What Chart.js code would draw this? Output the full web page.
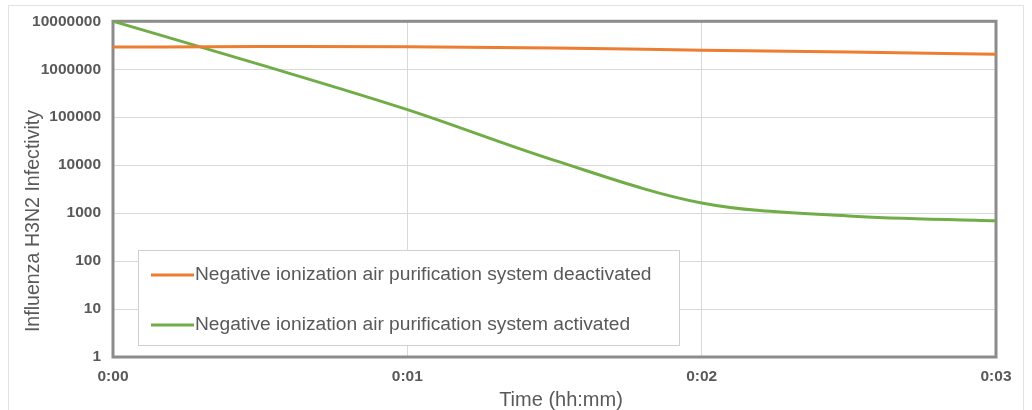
<!DOCTYPE html>
<html>
<head>
<meta charset="utf-8">
<script src="https://cdn.jsdelivr.net/npm/chart.js@4.4.1/dist/chart.umd.min.js"></script>
<style>
  html, body { margin: 0; padding: 0; background: #ffffff; }
  #wrap { position: relative; width: 1032px; height: 410px; overflow: hidden; }
  #frame { position: absolute; left: 8px; top: 5px; width: 1016px; height: 430px; border: 1px solid #e3e3e3; box-sizing: border-box; }
  canvas { position: absolute; left: 0; top: 0; }
</style>
</head>
<body>
<div id="wrap">
  <div id="frame"></div>
  <canvas id="c" width="1032" height="410"></canvas>
</div>
<script>
// Time in minutes (0:00 .. 0:03)
const times = [0, 0.5, 1, 1.5, 2, 2.5, 3];
const xTickValues = [0, 1, 2, 3];
const xTickLabels = ['0:00', '0:01', '0:02', '0:03'];
const yTickValues = [1, 10, 100, 1000, 10000, 100000, 1000000, 10000000];

const xTitle = 'Time (hh:mm)';
const yTitle = 'Influenza H3N2 Infectivity';
const labelDeactivated = 'Negative ionization air purification system deactivated';
const labelActivated = 'Negative ionization air purification system activated';
const deactivated = [2900000, 2970000, 2940000, 2760000, 2500000, 2280000, 2050000];
const activated = [10000000, 1250000, 144000, 12600, 1630, 875, 690];

const ORANGE = '#ED7D31';
const GREEN = '#70AD47';
const TEXT = '#595959';
const FONT = "'Liberation Sans', Arial, sans-serif";

const framePlugin = {
  id: 'frame',
  beforeDatasetsDraw(chart) {
    const a = chart.chartArea, ctx = chart.ctx;
    ctx.save();
    ctx.strokeStyle = '#8c8c8c';
    ctx.lineWidth = 3;
    ctx.strokeRect(a.left, a.top, a.right - a.left, a.bottom - a.top);
    ctx.restore();
  }
};

const titlesPlugin = {
  id: 'axisTitles',
  afterDraw(chart) {
    const ctx = chart.ctx;
    ctx.save();
    ctx.fillStyle = TEXT;
    ctx.textAlign = 'center';
    ctx.textBaseline = 'middle';
    ctx.font = '20px ' + FONT;
    ctx.fillText(xTitle, 561, 400);
    ctx.translate(34, 221);
    ctx.rotate(-Math.PI / 2);
    ctx.font = '19.6px ' + FONT;
    ctx.fillText(yTitle, 0, 0);
    ctx.restore();
  }
};

const legendBoxPlugin = {
  id: 'legendBox',
  afterDatasetsDraw(chart) {
    const ctx = chart.ctx;
    const x0 = 138.5, y0 = 250.5, w = 541, h = 95;
    ctx.save();
    ctx.fillStyle = '#ffffff';
    ctx.fillRect(x0, y0, w, h);
    ctx.strokeStyle = '#d0d0d0';
    ctx.lineWidth = 1;
    ctx.strokeRect(x0, y0, w, h);
    const rows = [275, 325];
    chart.data.datasets.forEach((ds, i) => {
      const y = rows[i];
      ctx.strokeStyle = ds.borderColor;
      ctx.lineWidth = 3;
      ctx.beginPath();
      ctx.moveTo(151, y);
      ctx.lineTo(194, y);
      ctx.stroke();
      ctx.fillStyle = TEXT;
      ctx.font = '19.2px ' + FONT;
      ctx.textBaseline = 'middle';
      ctx.textAlign = 'left';
      ctx.fillText(ds.label, 195, y);
    });
    ctx.restore();
  }
};

new Chart(document.getElementById('c'), {
  type: 'line',
  data: {
    datasets: [
      {
        label: labelDeactivated,
        data: times.map((t, i) => ({ x: t, y: deactivated[i] })),
        borderColor: ORANGE,
        backgroundColor: ORANGE,
        borderWidth: 3,
        pointRadius: 0,
        cubicInterpolationMode: 'monotone',
        fill: false
      },
      {
        label: labelActivated,
        data: times.map((t, i) => ({ x: t, y: activated[i] })),
        borderColor: GREEN,
        backgroundColor: GREEN,
        borderWidth: 3,
        pointRadius: 0,
        cubicInterpolationMode: 'monotone',
        fill: false
      }
    ]
  },
  options: {
    responsive: false,
    animation: false,
    devicePixelRatio: 1,
    layout: { padding: { left: 0, top: 20, right: 36, bottom: 0 } },
    plugins: {
      legend: { display: false },
      tooltip: { enabled: false }
    },
    scales: {
      x: {
        type: 'linear',
        min: 0,
        max: 3,
        afterBuildTicks(scale) { scale.ticks = xTickValues.map(v => ({ value: v })); },
        afterFit(scale) { scale.height = 53; },
        ticks: {
          callback: (v) => xTickLabels[xTickValues.indexOf(v)],
          color: TEXT,
          font: { family: FONT, size: 15.5, weight: 'bold' },
          padding: 10,
          maxRotation: 0
        },
        grid: { color: '#d9d9d9', lineWidth: 1, drawTicks: false },
        border: { display: false },
        title: { display: false }
      },
      y: {
        type: 'logarithmic',
        min: 1,
        max: 10000000,
        afterBuildTicks(scale) { scale.ticks = yTickValues.map(v => ({ value: v })); },
        afterFit(scale) { scale.width = 113; },
        ticks: {
          callback: (v) => String(v),
          color: TEXT,
          font: { family: FONT, size: 15.5, weight: 'bold' },
          padding: 12
        },
        grid: { color: '#d9d9d9', lineWidth: 1, drawTicks: false },
        border: { display: false },
        title: { display: false }
      }
    }
  },
  plugins: [framePlugin, legendBoxPlugin, titlesPlugin]
});
</script>
</body>
</html>
